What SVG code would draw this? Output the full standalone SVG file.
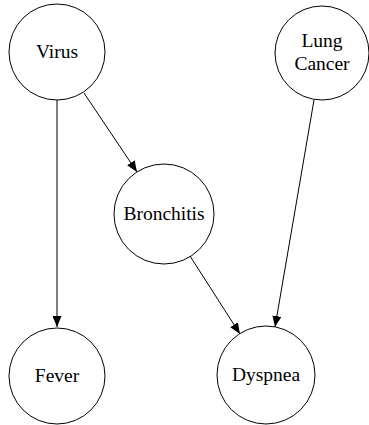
<svg xmlns="http://www.w3.org/2000/svg" width="369" height="425" viewBox="0 0 369 425">
  <style>
    .node circle { fill: #ffffff; stroke: #000000; stroke-width: 1; }
    .node text { font-family: "Liberation Serif", "Times New Roman", serif; font-size: 19.5px; fill: #000000; text-anchor: middle; }
    .edge { stroke: #000000; stroke-width: 1; fill: none; marker-end: url(#arrow); }
  </style>
  <defs>
    <marker id="arrow" markerUnits="userSpaceOnUse" markerWidth="11" markerHeight="9" refX="11" refY="4.5" orient="auto">
      <path d="M0,0 L11,4.5 L0,9 z" fill="#000000"/>
    </marker>
  </defs>
  <rect width="369" height="425" fill="#ffffff"/>

  <!-- connectors -->
  <g id="edges">
    <line class="edge" x1="57" y1="100" x2="57" y2="327"/>
    <line class="edge" x1="84" y1="93" x2="137" y2="172"/>
    <line class="edge" x1="190" y1="256" x2="240" y2="334"/>
    <line class="edge" x1="314" y1="100" x2="275" y2="327"/>
  </g>

  <!-- nodes -->
  <g id="virus" class="node">
    <circle cx="57" cy="52" r="48"/>
    <text x="57" y="58" font-family="Liberation Serif, serif">Virus</text>
  </g>
  <g id="lung-cancer" class="node">
    <circle cx="322" cy="53" r="47"/>
    <text x="322" y="47" font-family="Liberation Serif, serif">Lung</text>
    <text x="322" y="70" font-family="Liberation Serif, serif">Cancer</text>
  </g>
  <g id="bronchitis" class="node">
    <circle cx="164" cy="214" r="50"/>
    <text x="164" y="220" font-family="Liberation Serif, serif">Bronchitis</text>
  </g>
  <g id="fever" class="node">
    <circle cx="57" cy="376" r="48"/>
    <text x="57" y="382" font-family="Liberation Serif, serif">Fever</text>
  </g>
  <g id="dyspnea" class="node">
    <circle cx="266" cy="375" r="49"/>
    <text x="266" y="381" font-family="Liberation Serif, serif">Dyspnea</text>
  </g>
</svg>
